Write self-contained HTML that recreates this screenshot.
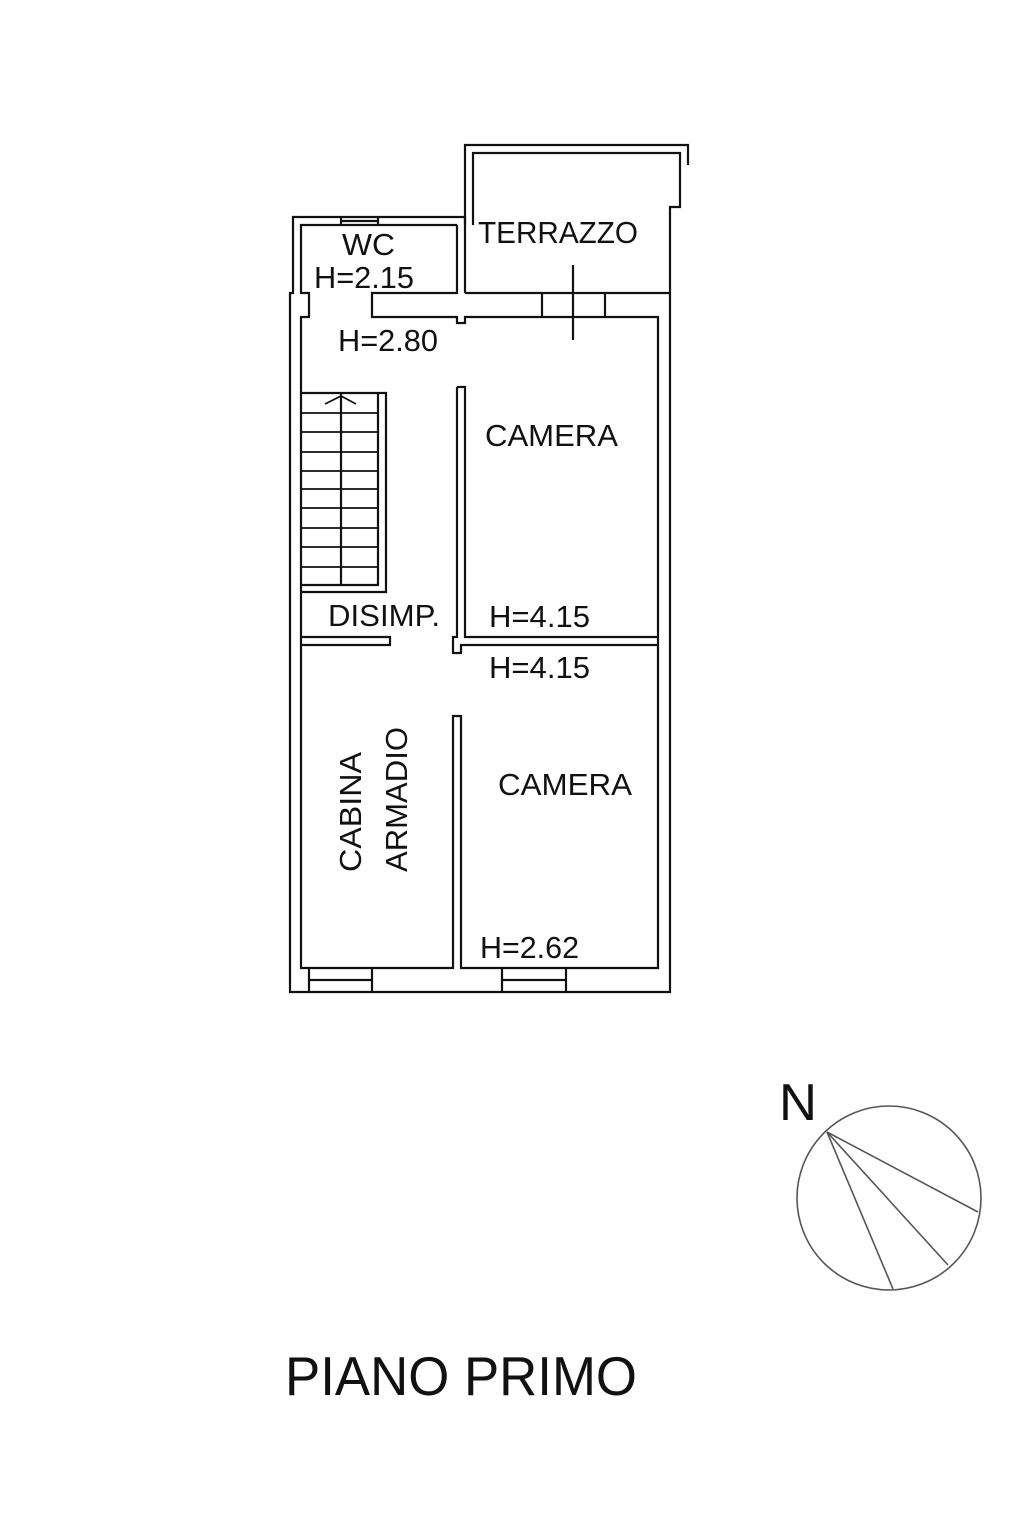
<!DOCTYPE html>
<html><head><meta charset="utf-8"><style>
html,body{margin:0;padding:0;background:#fff;}
svg{display:block;}
text{font-family:"Liberation Sans",Arial,sans-serif;fill:#111;}
</style></head><body>
<svg width="1024" height="1536" viewBox="0 0 1024 1536" xmlns="http://www.w3.org/2000/svg">
<g fill="none" stroke="#111" stroke-width="2.2" stroke-linejoin="miter">
<!-- outer shell -->
<polyline points="465,293 465,145 688,145 688,165"/>
<polyline points="465,225 465,217 293,217 293,293 290,293 290,992 670,992 670,207 680,207 680,153 473,153 473,225"/>
<!-- WC inner -->
<polyline points="457,225 301,225 301,293 309,293 309,317 301,317 301,968 453,968 453,716 461,716 461,968 658,968 658,317 465,317 465,323 457,323 457,317 372,317 372,293 457,293 457,225"/>
<line x1="465" y1="293" x2="670" y2="293"/>
<!-- WC window -->
<line x1="341" y1="217" x2="341" y2="225"/><line x1="378" y1="217" x2="378" y2="225"/>
<line x1="341" y1="221" x2="378" y2="221"/>
<!-- terrazzo door -->
<line x1="542" y1="293" x2="542" y2="317"/><line x1="605" y1="293" x2="605" y2="317"/>
<line x1="573" y1="265" x2="573" y2="340"/>
<!-- partition upper -->
<polyline points="457,387 465,387 465,637 658,637"/>
<polyline points="457,387 457,637 453,637 453,653 461,653 461,645 658,645"/>
<!-- stairs -->
<polyline points="301,393 386,393 386,592 301,592"/>
<polyline points="378,393 378,585 301,585"/>
<line x1="341" y1="393" x2="341" y2="585"/>
<g stroke-width="1.8">
<line x1="301" y1="413" x2="378" y2="413"/><line x1="301" y1="432" x2="378" y2="432"/>
<line x1="301" y1="452" x2="378" y2="452"/><line x1="301" y1="471" x2="378" y2="471"/>
<line x1="301" y1="489" x2="378" y2="489"/><line x1="301" y1="508" x2="378" y2="508"/>
<line x1="301" y1="528" x2="378" y2="528"/><line x1="301" y1="547" x2="378" y2="547"/>
<line x1="301" y1="567" x2="378" y2="567"/>
<polyline points="325,404 341,396 356,404"/>
</g>
<!-- disimp wall -->
<polyline points="301,637 390,637 390,645 301,645"/>
<!-- bottom windows -->
<line x1="309" y1="968" x2="309" y2="992"/><line x1="372" y1="968" x2="372" y2="992"/>
<line x1="309" y1="980" x2="372" y2="980"/>
<line x1="502" y1="968" x2="502" y2="992"/><line x1="566" y1="968" x2="566" y2="992"/>
<line x1="502" y1="980" x2="566" y2="980"/>
<!-- compass -->
<g stroke="#555" stroke-width="1.6">
<circle cx="889" cy="1198" r="92"/>
<line x1="827" y1="1132" x2="893" y2="1289"/>
<line x1="827" y1="1132" x2="948" y2="1265"/>
<line x1="827" y1="1132" x2="978" y2="1212"/>
</g>
</g>
<g font-size="31">
<text x="342" y="255" textLength="53" lengthAdjust="spacingAndGlyphs">WC</text>
<text x="314" y="288" textLength="100" lengthAdjust="spacingAndGlyphs">H=2.15</text>
<text x="478" y="243" textLength="160" lengthAdjust="spacingAndGlyphs">TERRAZZO</text>
<text x="338" y="351" textLength="100" lengthAdjust="spacingAndGlyphs">H=2.80</text>
<text x="485" y="446" textLength="133" lengthAdjust="spacingAndGlyphs">CAMERA</text>
<text x="328" y="626" textLength="112" lengthAdjust="spacingAndGlyphs">DISIMP.</text>
<text x="489" y="627" textLength="101" lengthAdjust="spacingAndGlyphs">H=4.15</text>
<text x="489" y="678" textLength="101" lengthAdjust="spacingAndGlyphs">H=4.15</text>
<text x="498" y="795" textLength="134" lengthAdjust="spacingAndGlyphs">CAMERA</text>
<text x="480" y="958" textLength="99" lengthAdjust="spacingAndGlyphs">H=2.62</text>
<text transform="translate(361,872) rotate(-90)" textLength="120" lengthAdjust="spacingAndGlyphs">CABINA</text>
<text transform="translate(407,872) rotate(-90)" textLength="145" lengthAdjust="spacingAndGlyphs">ARMADIO</text>
</g>
<text x="779" y="1120" font-size="52" textLength="38" lengthAdjust="spacingAndGlyphs">N</text>
<text x="285" y="1395" font-size="55" textLength="352" lengthAdjust="spacingAndGlyphs">PIANO PRIMO</text>
</svg>
</body></html>
